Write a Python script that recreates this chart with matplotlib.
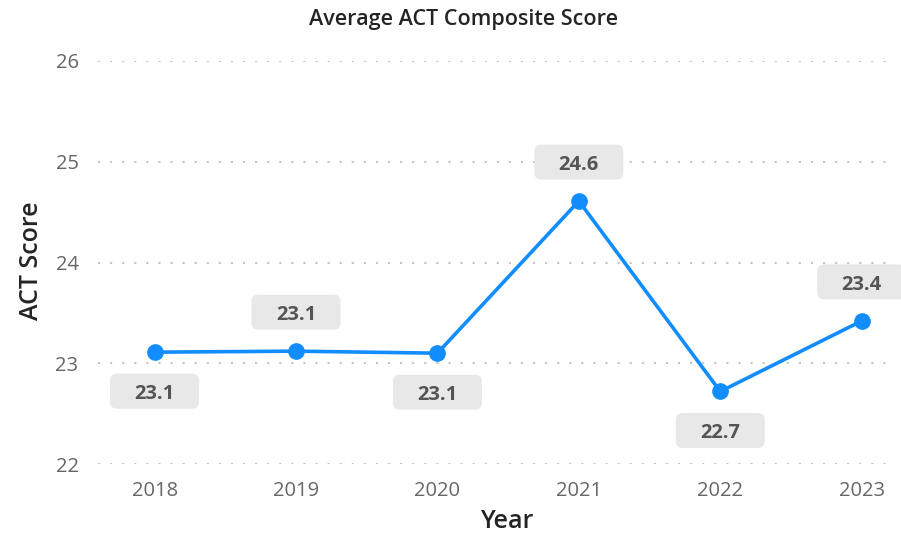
import matplotlib.pyplot as plt
import matplotlib.transforms as mtransforms
from matplotlib.patches import FancyBboxPatch

years = ["2018", "2019", "2020", "2021", "2022", "2023"]
scores = [23.11, 23.12, 23.10, 24.61, 22.72, 23.42]
labels = ["23.1", "23.1", "23.1", "24.6", "22.7", "23.4"]
label_side = [-1, 1, -1, 1, -1, 1]  # -1 below point, 1 above
yticks = [22, 23, 24, 25, 26]

plt.rcParams['font.family'] = ['Open Sans', 'DejaVu Sans']

fig = plt.figure(figsize=(9.01, 5.36), dpi=100)
ax = fig.add_axes([98 / 901, 1 - 464 / 536, (890 - 98) / 901, (464 - 61) / 536])

x = list(range(len(years)))
ax.plot(x, scores, color='#118DFF', linewidth=2.6, marker='o', markersize=11, zorder=3)

# data labels: grey rounded box of fixed pixel size, above or below the point
box_w, box_h, off = 89, 35, 39
for xi, yi, lab, side in zip(x, scores, labels, label_side):
	tr = mtransforms.ScaledTranslation(xi, yi, ax.transData)
	box = FancyBboxPatch((-box_w / 2, off * side - box_h / 2), box_w, box_h,
		boxstyle='round,pad=0,rounding_size=7', fc='#E8E8E8', ec='none',
		transform=tr, zorder=4, clip_on=False)
	ax.add_patch(box)
	ax.annotate(lab, (xi, yi), xytext=(0, (off * side - 3) * 0.72), textcoords='offset points',
		ha='center', va='center', fontsize=14.5, fontweight='bold', color='#555555',
		zorder=5)

ax.set_xlim(-0.4, 5.2)
ax.set_ylim(22, 26)
ax.set_xticks(x)
ax.set_xticklabels(years)
ax.set_yticks(yticks)

ax.grid(axis='y', color='#C4C4C4', linestyle=(0, (1, 4.8)), linewidth=1.5)
ax.set_axisbelow(True)
for s in ax.spines.values():
	s.set_visible(False)
ax.tick_params(axis='both', length=0, labelsize=14.5, colors='#666666')
ax.tick_params(axis='x', pad=12)
ax.tick_params(axis='y', pad=14)

fig.text(507 / 901, 1 - 521 / 536, "Year", ha='center', va='center',
	fontsize=18, fontweight='semibold', color='#252423')
fig.text(32 / 901, 1 - 261 / 536, "ACT Score", ha='center', va='center', rotation=90,
	fontsize=18, fontweight='semibold', color='#252423')
fig.text(464 / 901, 1 - 19 / 536, "Average ACT Composite Score", ha='center', va='center',
	fontsize=15.5, fontweight='semibold', color='#252423')

fig.savefig("out.png", dpi=100)
